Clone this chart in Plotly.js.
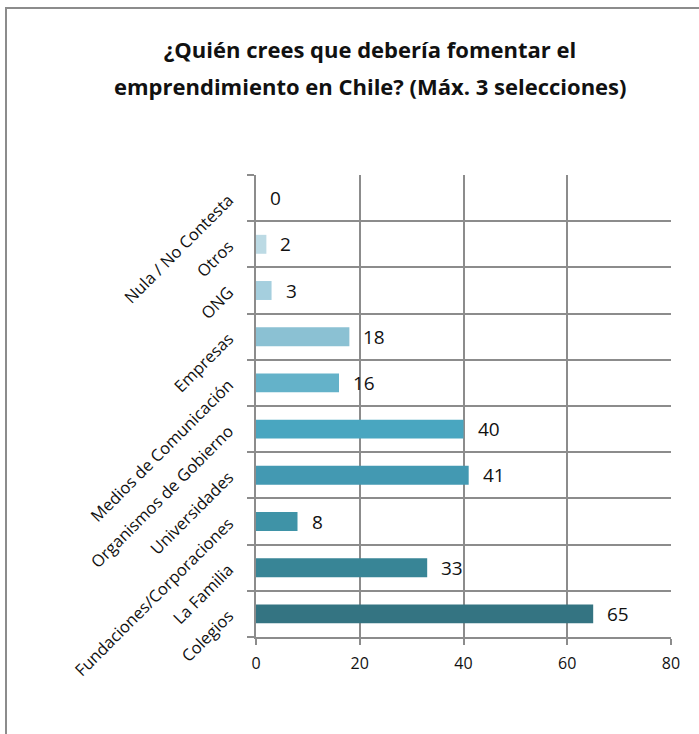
<!DOCTYPE html>
<html>
<head>
<meta charset="utf-8">
<script src="https://cdn.plot.ly/plotly-3.0.1.min.js"></script>
<style>
html,body{margin:0;padding:0;overflow:hidden;background:#fff;}
#frame{position:absolute;left:5px;top:7px;width:720px;height:760px;border:2px solid #8c8c8c;box-sizing:border-box;}
#chart{position:absolute;left:0;top:0;width:699px;height:734px;}
</style>
</head>
<body>
<div id="frame"></div>
<div id="chart"></div>
<script>
const categories = ["Colegios","La Familia","Fundaciones/Corporaciones","Universidades","Organismos de Gobierno","Medios de Comunicación","Empresas","ONG","Otros","Nula / No Contesta"];
const values = [65, 33, 8, 41, 40, 16, 18, 3, 2, 0];
const barColors = ["#347482","#388596","#3f93a7","#4399b2","#49a6c0","#64b2c9","#8bc1d3","#a5cfde","#bcdae4","#cfe4ec"];
const xTicks = [0, 20, 40, 60, 80];
const titleLines = ["¿Quién crees que debería fomentar el", "emprendimiento en Chile? (Máx. 3 selecciones)"];

const FONT = "Open Sans, Noto Sans, sans-serif";
const W = 699, H = 734, ML = 256, MR = 28, MT = 175, MB = 97;
const PW = W - ML - MR, PH = H - MT - MB;

const trace = {
  type: "bar",
  orientation: "h",
  x: values,
  y: categories,
  marker: {color: barColors, line: {width: 0}},
  hoverinfo: "none",
  cliponaxis: false
};

const annotations = categories.map((c, i) => ({
  x: values[i], y: c, xref: "x", yref: "y",
  text: String(values[i]), showarrow: false,
  xanchor: "left", yanchor: "middle", xshift: 12, yshift: 0,
  font: {family: FONT, size: 19, color: "#111"}
}));

annotations.push({
  xref: "paper", yref: "paper",
  x: (370 - ML) / PW, y: (H - MB - 86) / PH,
  text: "<b>" + titleLines[1] + "</b>", showarrow: false,
  xanchor: "center", yanchor: "middle",
  font: {family: FONT, size: 22, color: "#111"}
});

const layout = {
  width: W, height: H,
  paper_bgcolor: "rgba(0,0,0,0)",
  plot_bgcolor: "rgba(0,0,0,0)",
  margin: {l: ML, r: MR, t: MT, b: MB},
  showlegend: false,
  bargap: 0.59,
  title: {
    text: "<b>" + titleLines[0] + "</b>",
    font: {family: FONT, size: 22, color: "#111"},
    x: 370 / W, xanchor: "center", y: 1 - 50 / H, yanchor: "middle"
  },
  xaxis: {
    range: [0, 80], tickvals: xTicks, ticktext: xTicks.map(String),
    showgrid: true, gridcolor: "#8c8c8c", gridwidth: 2,
    showline: true, linecolor: "#8c8c8c", linewidth: 2,
    ticks: "outside", ticklen: 6, tickcolor: "#8c8c8c", tickwidth: 2,
    ticklabelstandoff: 5,
    zeroline: false,
    tickfont: {family: FONT, size: 16, color: "#111"},
    fixedrange: true
  },
  yaxis: {
    type: "category", categoryorder: "array", categoryarray: categories,
    tickson: "boundaries",
    showgrid: true, gridcolor: "#8c8c8c", gridwidth: 2,
    showline: true, linecolor: "#8c8c8c", linewidth: 2,
    ticks: "outside", ticklen: 7, tickcolor: "#8c8c8c", tickwidth: 2,
    ticklabelstandoff: 22,
    tickangle: -45,
    tickfont: {family: FONT, size: 16.5, color: "#111"},
    fixedrange: true
  },
  annotations: annotations
};

Plotly.newPlot("chart", [trace], layout, {displayModeBar: false, staticPlot: true});
</script>
</body>
</html>
